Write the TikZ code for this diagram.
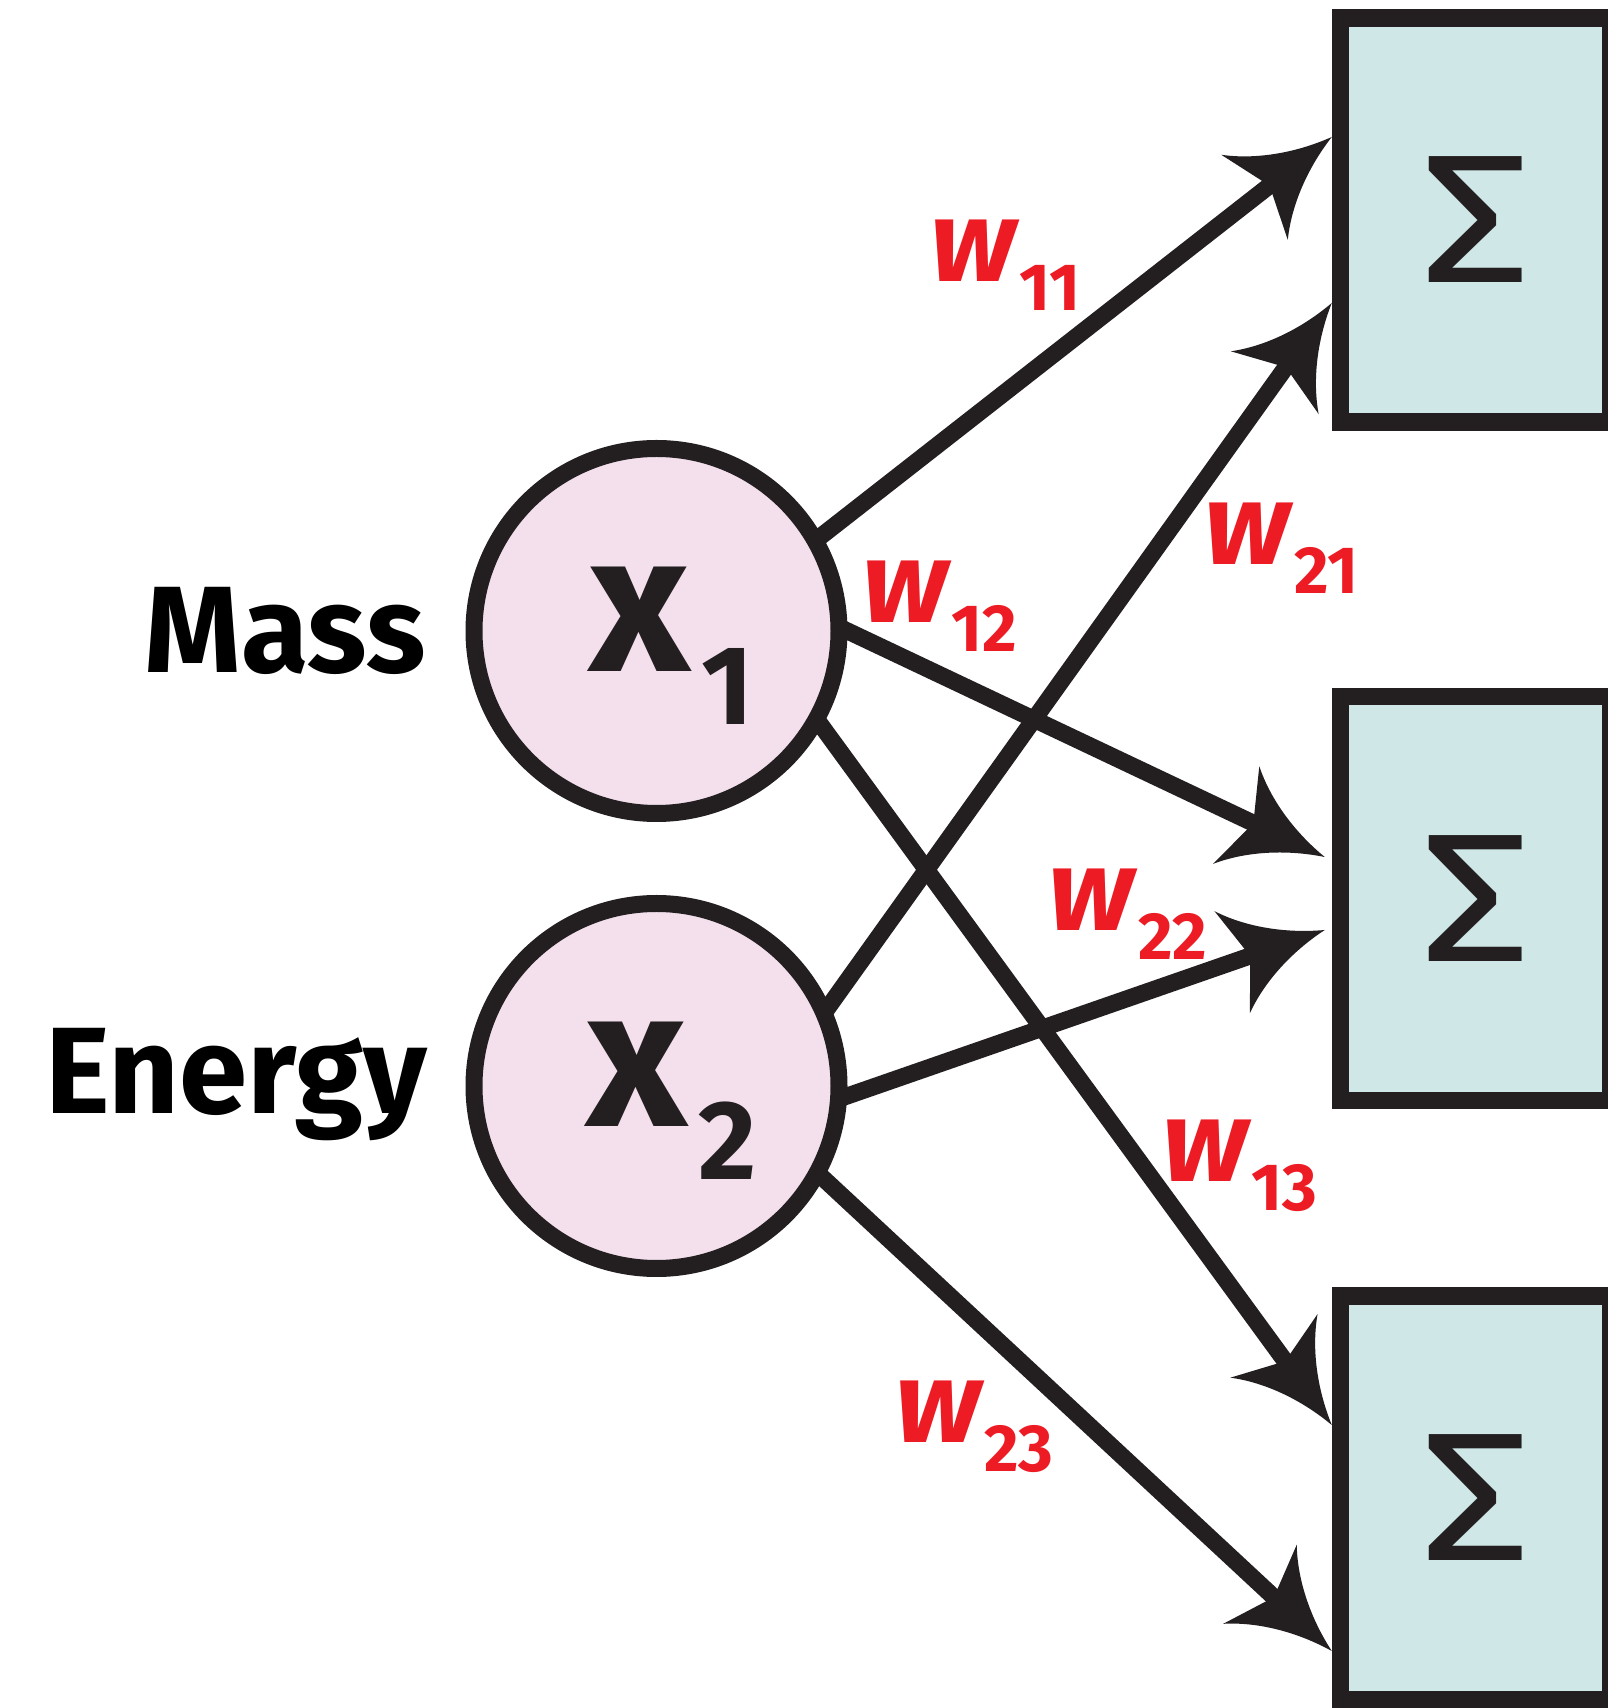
\documentclass[tikz,border=0pt]{standalone}
\usepackage{fontspec}
\setmainfont{Fira Sans}
\usetikzlibrary{arrows.meta}

\definecolor{ink}{HTML}{231F20}
\definecolor{wred}{HTML}{ED1C24}
\definecolor{unitpink}{HTML}{F3E0EC}
\definecolor{sumcyan}{HTML}{CFE8E7}

% swept-back arrow head
\pgfdeclarearrow{
  name = Barb,
  parameters = {},
  setup code = {
    \pgfarrowssettipend{0pt}
    \pgfarrowssetbackend{-0.98cm}
    \pgfarrowssetlineend{-0.75cm}
    \pgfarrowshullpoint{0pt}{0pt}
    \pgfarrowsupperhullpoint{-0.98cm}{0.54cm}
  },
  drawing code = {
    \pgfpathmoveto{\pgfpointorigin}
    \pgfpathcurveto{\pgfpoint{-0.40cm}{0.10cm}}{\pgfpoint{-0.75cm}{0.30cm}}{\pgfpoint{-0.98cm}{0.54cm}}
    \pgfpathlineto{\pgfpoint{-0.79cm}{0cm}}
    \pgfpathlineto{\pgfpoint{-0.98cm}{-0.54cm}}
    \pgfpathcurveto{\pgfpoint{-0.75cm}{-0.30cm}}{\pgfpoint{-0.40cm}{-0.10cm}}{\pgfpointorigin}
    \pgfpathclose
    \pgfusepathqfill
  }
}

\newcommand{\wt}[1]{{\fontsize{33}{36}\selectfont\bfseries\itshape w}\kern1pt\raisebox{-8.3pt}{\fontsize{19}{22}\selectfont\bfseries #1}}
\newcommand{\xin}[1]{\kern0.3cm{\fontsize{56}{60}\selectfont\bfseries x}\kern3pt\raisebox{-15pt}{\fontsize{32}{36}\selectfont\bfseries #1}}

\begin{document}
\begin{tikzpicture}[
  unit/.style={circle,draw=ink,fill=unitpink,line width=0.17cm,minimum size=3.65cm,inner sep=0pt,text height=0.82cm,text depth=0pt},
  sumbox/.style={rectangle,draw=ink,fill=sumcyan,line width=0.175cm,minimum width=2.70cm,minimum height=4.04cm,inner sep=0pt,text=ink,font=\fontsize{52}{56}\selectfont},
  feat/.style={anchor=base,font=\fontsize{35}{40}\selectfont\bfseries},
  wgt/.style={text=wred},
  link/.style={-Barb,draw=ink,line width=0.17cm,shorten <=-0.06cm}]
  \useasboundingbox (0,0) rectangle (16.08,17.08);
  \clip (0,0) rectangle (16.08,17.08);

  \node[unit,text=ink] (x1) at (6.565,10.77) {\xin{1}};
  \node[unit,text=ink] (x2) at (6.565,6.22) {\xin{2}};
  \node[feat] (mass) at (2.85,10.35) {Mass};
  \node[feat] (energy) at (2.36,5.94) {Energy};

  \node[sumbox] (s1) at (14.755,14.88) {\scalebox{1.2}[1]{Σ}};
  \node[sumbox] (s2) at (14.755,8.095) {\scalebox{1.2}[1]{Σ}};
  \node[sumbox] (s3) at (14.755,2.10) {\scalebox{1.2}[1]{Σ}};

  \draw[link] (x1.30) -- ([yshift=0.83cm]s1.west);
  \draw[link] (x2.25) -- ([yshift=-0.83cm]s1.west);
  \draw[link] (x1.0) -- ([xshift=-0.07cm,yshift=0.415cm]s2.west);
  \draw[link] (x2.-3) -- ([xshift=-0.07cm,yshift=-0.315cm]s2.west);
  \draw[link] (x1.-30) -- ([yshift=0.73cm]s3.west);
  \draw[link] (x2.-29) -- ([yshift=-1.53cm]s3.west);

  \node[wgt] (w11) at (10.055,14.43) {\wt{11}};
  \node[wgt] (w21) at (12.815,11.60) {\wt{21}};
  \node[wgt] (w12) at (9.40,11.02) {\wt{12}};
  \node[wgt] (w22) at (11.28,7.935) {\wt{22}};
  \node[wgt] (w13) at (12.40,5.42) {\wt{13}};
  \node[wgt] (w23) at (9.745,2.81) {\wt{23}};
\end{tikzpicture}
\end{document}
